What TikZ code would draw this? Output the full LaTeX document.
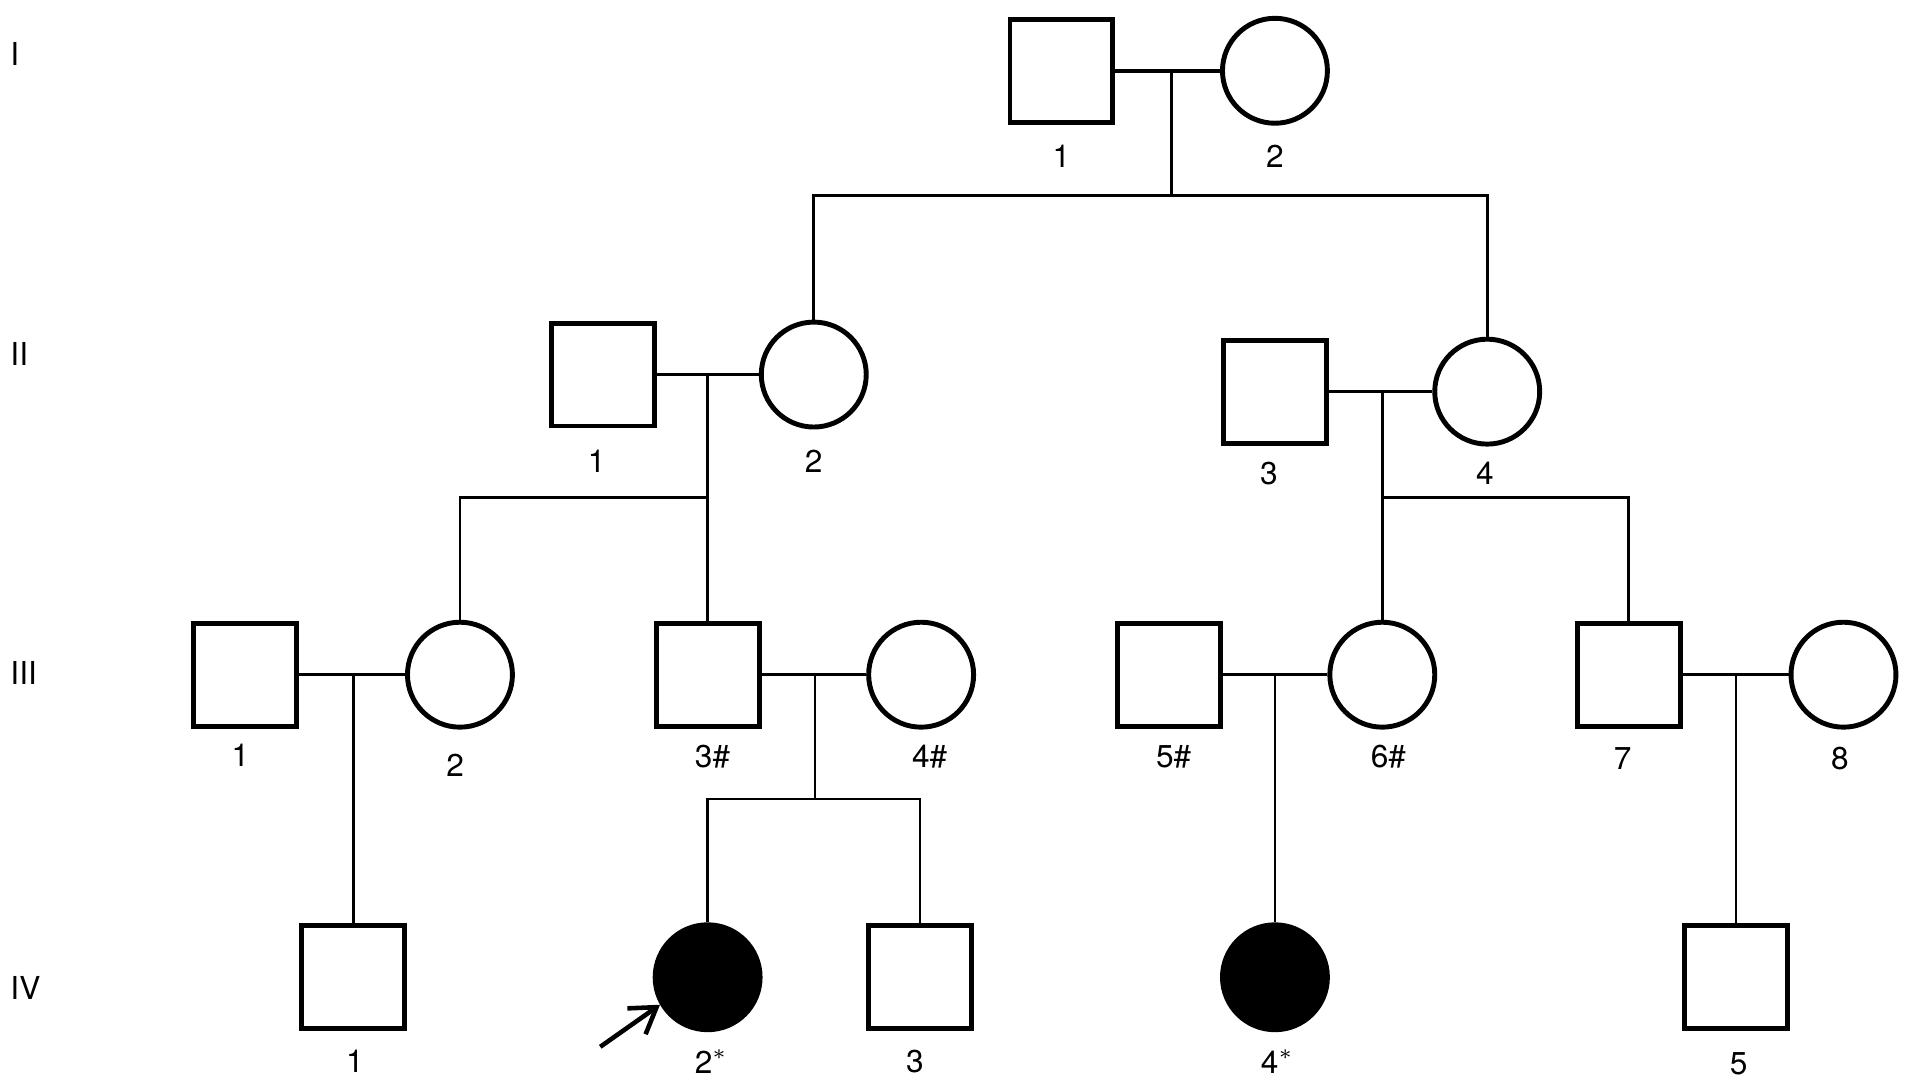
\documentclass[tikz,border=0pt]{standalone}
\usepackage{fontspec}
\setmainfont{TeX Gyre Heros}
\usetikzlibrary{arrows.meta}
\begin{document}
\begin{tikzpicture}[x=0.0122cm,y=-0.0122cm,
 male/.style={draw,rectangle,line width=1.4pt,minimum size=1.03cm,inner sep=0pt},
 female/.style={draw,circle,line width=1.4pt,minimum size=1.05cm,inner sep=0pt},
 aff/.style={fill=black},
 lab/.style={font=\fontsize{9}{10}\selectfont,inner sep=0pt},
 gen/.style={font=\fontsize{9}{10}\selectfont,inner sep=0pt,anchor=west},
 con/.style={line width=0.75pt},
 mar/.style={line width=1pt}]
\useasboundingbox (0,0) rectangle (1568,893);
% generation labels
\node[gen] (gI) at (8,44) {I};
\node[gen] (gII) at (8,290) {II};
\node[gen] (gIII) at (8,552) {III};
\node[gen] (gIV) at (8,810) {IV};
% Generation I
\node[male] (I1) at (870,58) {};
\node[female] (I2) at (1045,58) {};
\node[lab] (I1l) at (870,128) {1};
\node[lab] (I2l) at (1045,128) {2};
% Generation II
\node[male] (II1) at (494,307) {};
\node[female] (II2) at (667,307) {};
\node[male] (II3) at (1045,321) {};
\node[female] (II4) at (1219,321) {};
\node[lab] (II1l) at (489,378) {1};
\node[lab] (II2l) at (667,378) {2};
\node[lab] (II3l) at (1040,388) {3};
\node[lab] (II4l) at (1217,388) {4};
% Generation III
\node[male] (III1) at (201,553) {};
\node[female] (III2) at (377,553) {};
\node[male] (III3) at (580,553) {};
\node[female] (III4) at (755,553) {};
\node[male] (III5) at (958,553) {};
\node[female] (III6) at (1133,553) {};
\node[male] (III7) at (1335,553) {};
\node[female] (III8) at (1511,553) {};
\node[lab] (III1l) at (197,619) {1};
\node[lab] (III2l) at (373,627) {2};
\node[lab] (III3l) at (584,620) {3\#};
\node[lab] (III4l) at (762,620) {4\#};
\node[lab] (III5l) at (962,620) {5\#};
\node[lab] (III6l) at (1138,620) {6\#};
\node[lab] (III7l) at (1330,622) {7};
\node[lab] (III8l) at (1508,622) {8};
% Generation IV
\node[male] (IV1) at (289,801) {};
\node[female,aff] (IV2) at (580,801) {};
\node[male] (IV3) at (754,801) {};
\node[female,aff] (IV4) at (1045,801) {};
\node[male] (IV5) at (1423,801) {};
\node[lab] (IV1l) at (291,870) {1};
\node[lab] (IV2l) at (583,870) {2$^{*}$};
\node[lab] (IV3l) at (750,870) {3};
\node[lab] (IV4l) at (1047,870) {4$^{*}$};
\node[lab] (IV5l) at (1425,872) {5};
% marriages
\draw[mar] (I1.east) -- (I2.west);
\draw[mar] (II1.east) -- (II2.west);
\draw[mar] (II3.east) -- (II4.west);
\draw[mar] (III1.east) -- (III2.west);
\draw[mar] (III3.east) -- (III4.west);
\draw[mar] (III5.east) -- (III6.west);
\draw[mar] (III7.east) -- (III8.west);
% descent from I
\coordinate (m1) at (960,58);
\coordinate (s1) at (960,160);
\draw[con] (m1) -- (s1);
\draw[con] (II2.north) |- (s1) -| (II4.north);
% descent from II-1/2
\coordinate (m2) at (580,307);
\coordinate (s2) at (580,408);
\draw[con] (m2) -- (III3.north);
\draw[con] (III2.north) |- (s2);
% descent from II-3/4
\coordinate (m3) at (1133,321);
\coordinate (s3) at (1133,408);
\draw[con] (m3) -- (III6.north);
\draw[con] (s3) -| (III7.north);
% descent from III-1/2
\coordinate (m4) at (290,553);
\draw[con] (m4) -- (m4 |- IV1.north);
% descent from III-3/4
\coordinate (m5) at (668,553);
\coordinate (s5) at (668,655);
\draw[con] (m5) -- (s5);
\draw[con] (IV2.north) |- (s5) -| (IV3.north);
% descent from III-5/6
\coordinate (m6) at (1045,553);
\draw[con] (m6) -- (IV4.north);
% descent from III-7/8
\coordinate (m7) at (1423,553);
\draw[con] (m7) -- (IV5.north);
% proband arrow
\coordinate (pa) at (492,858);
\draw[line width=1.3pt,-{Straight Barb[length=7pt,width=9pt]}] (pa) -- (IV2.-150);
\end{tikzpicture}
\end{document}
